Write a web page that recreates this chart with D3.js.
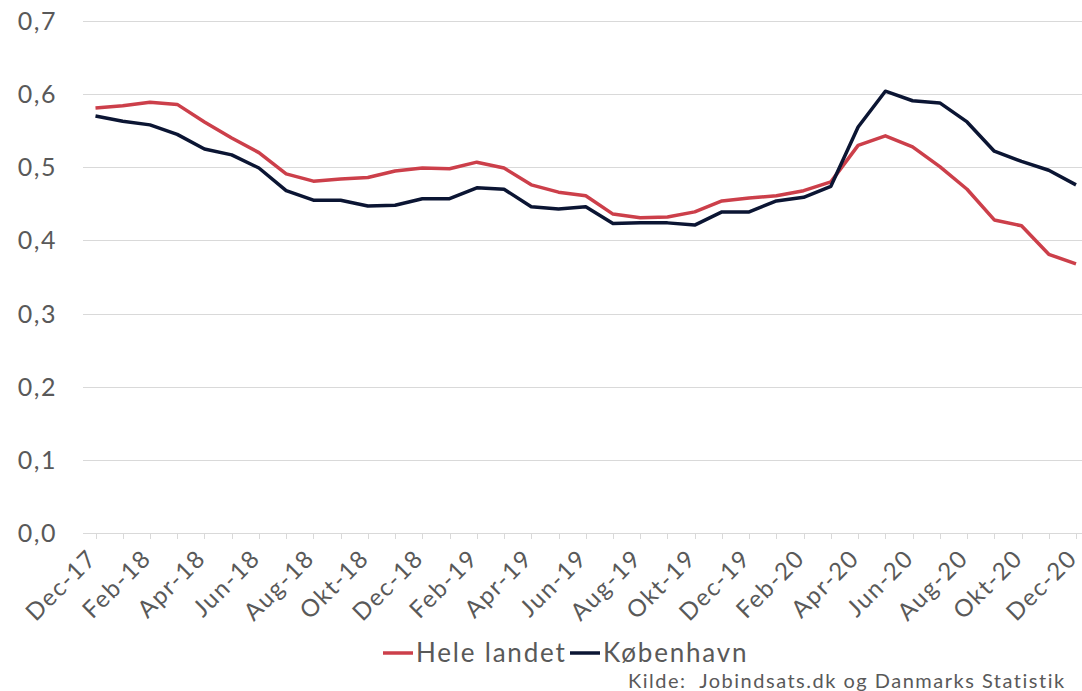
<!DOCTYPE html>
<html>
<head>
<meta charset="utf-8">
<style>
  body { margin: 0; background: #fff; }
  svg { display: block; font-family: Lato, "Open Sans", sans-serif; }
</style>
</head>
<body>
<svg width="1082" height="691"></svg>
<script src="https://d3js.org/d3.v7.min.js"></script>
<script>

	// Data.
	var months = ["Dec-17","Jan-18","Feb-18","Mar-18","Apr-18","Maj-18","Jun-18","Jul-18","Aug-18","Sep-18","Okt-18","Nov-18",
		"Dec-18","Jan-19","Feb-19","Mar-19","Apr-19","Maj-19","Jun-19","Jul-19","Aug-19","Sep-19","Okt-19","Nov-19",
		"Dec-19","Jan-20","Feb-20","Mar-20","Apr-20","Maj-20","Jun-20","Jul-20","Aug-20","Sep-20","Okt-20","Nov-20","Dec-20"];

	var heleLandet = [0.581,0.584,0.589,0.586,0.562,0.540,0.520,0.491,0.481,0.484,0.486,0.495,
		0.499,0.498,0.507,0.499,0.476,0.466,0.461,0.436,0.431,0.432,0.439,0.454,
		0.458,0.461,0.468,0.480,0.530,0.543,0.528,0.501,0.470,0.428,0.420,0.381,0.368];

	var koebenhavn = [0.570,0.563,0.558,0.545,0.525,0.517,0.499,0.468,0.455,0.455,0.447,0.448,
		0.457,0.457,0.472,0.470,0.446,0.443,0.446,0.423,0.424,0.424,0.421,0.439,
		0.439,0.454,0.459,0.474,0.555,0.604,0.591,0.588,0.562,0.522,0.508,0.496,0.476];

	var yTicks = [0,0.1,0.2,0.3,0.4,0.5,0.6,0.7];

	var series = [
		{name: "Hele landet", values: heleLandet, color: "#cc3f4a"},
		{name: "København", values: koebenhavn, color: "#0b1533"}
	];

	var svg = d3.select("svg"),
		textColor = "#595959",
		gridColor = "#d9d9d9";

	var x = d3.scalePoint()
		.domain(months)
		.range([95.5, 1076]);

	var y = d3.scaleLinear()
		.domain([0, 0.7])
		.range([533, 21]);

	var fmt = function(d) { return d3.format(".1f")(d).replace(".", ","); };

	// Gridlines + y labels.
	var grid = svg.append("g");
	grid.selectAll("line")
		.data(yTicks)
		.enter().append("line")
			.attr("x1", 83)
			.attr("x2", 1082)
			.attr("y1", function(d) { return Math.round(y(d)) + 0.5; })
			.attr("y2", function(d) { return Math.round(y(d)) + 0.5; })
			.style("stroke", gridColor)
			.style("stroke-width", 1);

	grid.selectAll("text")
		.data(yTicks)
		.enter().append("text")
			.attr("x", 57)
			.attr("y", function(d) { return y(d); })
			.attr("dy", "0.36em")
			.attr("text-anchor", "end")
			.style("font-size", "25px")
			.style("letter-spacing", "1.5px")
			.style("fill", textColor)
			.text(fmt);

	// X axis: a tick on every month, a label on every other.
	var xAxis = svg.append("g");
	xAxis.selectAll("line.tick")
		.data(months)
		.enter().append("line")
			.attr("class", "tick")
			.attr("x1", function(d) { return Math.round(x(d)) + 0.5; })
			.attr("x2", function(d) { return Math.round(x(d)) + 0.5; })
			.attr("y1", 533)
			.attr("y2", 539)
			.style("stroke", gridColor);

	xAxis.selectAll("text")
		.data(months.filter(function(d, i) { return i % 2 === 0; }))
		.enter().append("text")
			.attr("text-anchor", "end")
			.attr("transform", function(d) {
				return "translate(" + (x(d) + 1) + ",558) rotate(-45)";
			})
			.attr("dy", "0.1em")
			.style("font-size", "24px")
			.style("letter-spacing", "1.6px")
			.style("fill", textColor)
			.text(function(d) { return d; });

	// Lines.
	var line = d3.line()
		.x(function(d, i) { return x(months[i]); })
		.y(function(d) { return y(d); });

	svg.selectAll("path.series")
		.data(series)
		.enter().append("path")
			.attr("class", "series")
			.attr("d", function(d) { return line(d.values); })
			.style("fill", "none")
			.style("stroke", function(d) { return d.color; })
			.style("stroke-width", 3.5)
			.style("stroke-linejoin", "round");

	// Legend.
	var legendX = [383, 570];
	var legend = svg.selectAll("g.legend")
		.data(series)
		.enter().append("g")
			.attr("class", "legend")
			.attr("transform", function(d, i) { return "translate(" + legendX[i] + ",653)"; });

	legend.append("line")
		.attr("x1", 0).attr("x2", 30)
		.style("stroke", function(d) { return d.color; })
		.style("stroke-width", 3.5);

	legend.append("text")
		.attr("x", 33)
		.attr("dy", "0.36em")
		.style("font-size", "26px")
		.style("letter-spacing", "1.8px")
		.style("fill", textColor)
		.text(function(d) { return d.name; });

	// Source.
	svg.append("text")
		.attr("x", 628)
		.attr("y", 688)
		.style("font-size", "20px")
		.style("letter-spacing", "1.5px")
		.style("fill", textColor)
		.style("white-space", "pre")
		.text("Kilde:  Jobindsats.dk og Danmarks Statistik");

</script>
</body>
</html>
